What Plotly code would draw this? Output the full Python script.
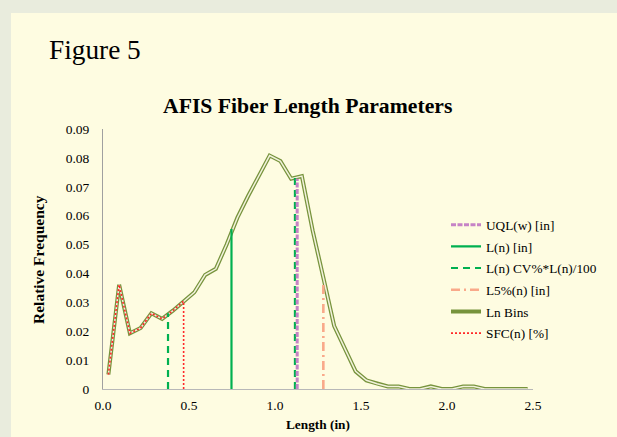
import plotly.graph_objects as go

# ---------------- data ----------------
length_in = [0.03125, 0.09375, 0.15625, 0.21875, 0.28125, 0.34375, 0.40625, 0.46875,
             0.53125, 0.59375, 0.65625, 0.71875, 0.78125, 0.84375, 0.90625, 0.96875,
             1.03125, 1.09375, 1.15625, 1.21875, 1.28125, 1.34375, 1.40625, 1.46875,
             1.53125, 1.59375, 1.65625, 1.71875, 1.78125, 1.84375, 1.90625, 1.96875,
             2.03125, 2.09375, 2.15625, 2.21875, 2.28125, 2.34375, 2.40625, 2.46875]
rel_freq = [0.0050, 0.0361, 0.0193, 0.0211, 0.0262, 0.0243, 0.0271, 0.0304,
            0.0335, 0.0395, 0.0416, 0.0500, 0.0593, 0.0668, 0.0737, 0.0808,
            0.0789, 0.0728, 0.0737, 0.0549, 0.0385, 0.0219, 0.0140, 0.0061,
            0.0030, 0.0018, 0.0009, 0.0009, 0.0, 0.0, 0.0009, 0.0,
            0.0, 0.0009, 0.0009, 0.0, 0.0, 0.0, 0.0, 0.0]

uql_w_in = 1.129
uql_top = 0.0728
ln_in = 0.747
ln_top = 0.0554
cv_x = [0.378, 1.116]
cv_top = [0.0262, 0.0730]
l5_in = 1.281
l5_top = 0.0366
sfc_bins = 8  # number of short-fibre bins (< 0.5 in)

x_tickvals = [0.0, 0.5, 1.0, 1.5, 2.0, 2.5]
x_ticktext = ["0.0", "0.5", "1.0", "1.5", "2.0", "2.5"]
y_tickvals = [0, 0.01, 0.02, 0.03, 0.04, 0.05, 0.06, 0.07, 0.08, 0.09]
y_ticktext = ["0", "0.01", "0.02", "0.03", "0.04", "0.05", "0.06", "0.07", "0.08", "0.09"]

FONT = "Liberation Serif, Times New Roman, serif"
OUTER_BG = "#E9ECDD"
PANEL_BG = "#FEFCE1"
BIN_GREEN = "#77933C"

fig = go.Figure()

# Ln Bins (double line: outer green + inner light)
fig.add_trace(go.Scatter(x=length_in, y=rel_freq, mode="lines", name="Ln Bins",
                         line=dict(color=BIN_GREEN, width=4.0), legendrank=5,
                         legendgroup="g5"))
fig.add_trace(go.Scatter(x=length_in, y=rel_freq, mode="lines", showlegend=False,
                         line=dict(color="#F2F2DC", width=1.5), hoverinfo="skip",
                         legendgroup="g5"))

# SFC(n) overlay on bins < 0.5 in, then drop
sfc_x = length_in[:sfc_bins] + [length_in[sfc_bins - 1]]
sfc_y = rel_freq[:sfc_bins] + [0]
fig.add_trace(go.Scatter(x=sfc_x, y=sfc_y, mode="lines", name="SFC(n) [%]",
                         line=dict(color="#FF2828", width=1.6, dash="2px,2px"),
                         legendrank=6, legendgroup="g6"))

# L(n) CV%*L(n)/100
fig.add_trace(go.Scatter(x=[cv_x[0], cv_x[0], None, cv_x[1], cv_x[1]],
                         y=[0, cv_top[0], None, 0, cv_top[1]], mode="lines",
                         name="L(n) CV%*L(n)/100",
                         line=dict(color="#00B050", width=2.2, dash="7px,5px"),
                         legendrank=3, legendgroup="g3"))

# L(n)
fig.add_trace(go.Scatter(x=[ln_in, ln_in], y=[0, ln_top], mode="lines", name="L(n) [in]",
                         line=dict(color="#00B050", width=2.2),
                         legendrank=2, legendgroup="g2"))

# UQL(w)
fig.add_trace(go.Scatter(x=[uql_w_in, uql_w_in], y=[0, uql_top], mode="lines",
                         name="UQL(w) [in]",
                         line=dict(color="#C683C6", width=3, dash="5px,1.5px"),
                         legendrank=1, legendgroup="g1"))

# L5%(n)
fig.add_trace(go.Scatter(x=[l5_in, l5_in], y=[0, l5_top], mode="lines", name="L5%(n) [in]",
                         line=dict(color="#F9A98A", width=2.6, dash="9px,4px,2px,4px"),
                         legendrank=4, legendgroup="g4"))

W, H = 617, 437
L, R, T, B = 103, 84, 129, 48
pw, ph = W - L - R, H - T - B

def px_x(p):
    return (p - L) / pw

def px_y(p):
    return (H - B - p) / ph

fig.update_layout(
    width=W, height=H,
    margin=dict(l=L, r=R, t=T, b=B, pad=0, autoexpand=False),
    paper_bgcolor=OUTER_BG,
    plot_bgcolor="rgba(0,0,0,0)",
    font=dict(family=FONT, size=13.3, color="#000000"),
    showlegend=True,
    legend=dict(xref="container", yref="container", x=446 / W, y=1 - 209.5 / H,
                xanchor="left", yanchor="top", bgcolor="rgba(0,0,0,0)",
                font=dict(family=FONT, size=13.3, color="#000000"),
                tracegroupgap=1.4, traceorder="grouped"),
    xaxis=dict(range=[0, 2.5], tickvals=x_tickvals, ticktext=x_ticktext,
               showgrid=False, zeroline=False, showline=True, linecolor="#B8B8B8",
               linewidth=1.4, ticks="", ticklabelstandoff=4,
               tickfont=dict(family=FONT, size=13.5, color="#000000")),
    yaxis=dict(range=[0, 0.09], tickvals=y_tickvals, ticktext=y_ticktext,
               showgrid=False, zeroline=False, showline=True, linecolor="#A0A0A0",
               linewidth=1, ticks="", ticklabelstandoff=10,
               tickfont=dict(family=FONT, size=13.5, color="#000000")),
    shapes=[dict(type="rect", xref="paper", yref="paper", layer="below",
                 x0=px_x(11), x1=px_x(W + 10), y0=px_y(H + 10), y1=px_y(13),
                 fillcolor=PANEL_BG, line=dict(width=0))],
    annotations=[
        dict(text="Figure 5", xref="paper", yref="paper", x=px_x(47), y=px_y(50),
             xanchor="left", yanchor="middle", showarrow=False,
             font=dict(family=FONT, size=27.3, color="#000000")),
        dict(text="<b>AFIS Fiber Length Parameters</b>", xref="paper", yref="paper",
             x=px_x(307.5), y=px_y(106), xanchor="center", yanchor="middle",
             showarrow=False, font=dict(family=FONT, size=21.7, color="#000000")),
        dict(text="<b>Relative Frequency</b>", xref="paper", yref="paper",
             x=px_x(38), y=px_y(260), xanchor="center", yanchor="middle",
             textangle=-90, showarrow=False,
             font=dict(family=FONT, size=15.5, color="#000000")),
        dict(text="<b>Length (in)</b>", xref="paper", yref="paper",
             x=px_x(318), y=px_y(424), xanchor="center", yanchor="middle",
             showarrow=False, font=dict(family=FONT, size=13.3, color="#000000")),
    ],
)

fig.write_html("out.html")
